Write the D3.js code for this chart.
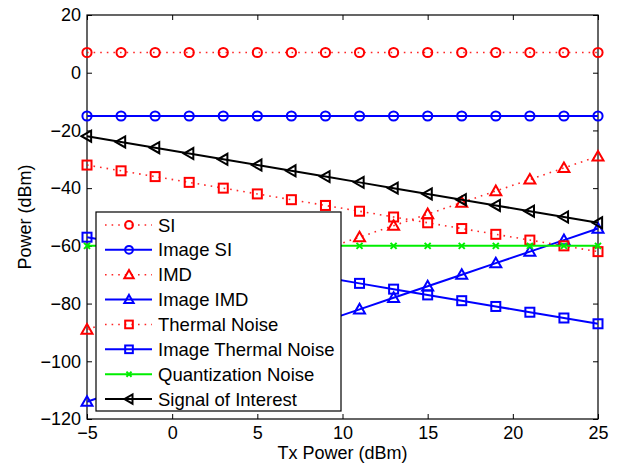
<!DOCTYPE html>
<html><head><meta charset="utf-8">
<script src="https://cdn.jsdelivr.net/npm/d3@7"></script>
<style>
html,body{margin:0;padding:0;background:#fff;}
svg{display:block;font-family:"Liberation Sans",Arial,Helvetica,sans-serif;}
</style></head>
<body><svg id="chart" width="625" height="466"></svg>
<script>
const txPower = [-5,-3,-1,1,3,5,7,9,11,13,15,17,19,21,23,25];
const siValues = [7,7,7,7,7,7,7,7,7,7,7,7,7,7,7,7];
const imageSiValues = [-15,-15,-15,-15,-15,-15,-15,-15,-15,-15,-15,-15,-15,-15,-15,-15];
const imdValues = [-89,-85,-81,-77,-73,-69,-65,-61,-57,-53,-49,-45,-41,-37,-33,-29];
const imageImdValues = [-114,-110,-106,-102,-98,-94,-90,-86,-82,-78,-74,-70,-66,-62,-58,-54];
const thermalValues = [-32,-34,-36,-38,-40,-42,-44,-46,-48,-50,-52,-54,-56,-58,-60,-62];
const imageThermalValues = [-57,-59,-61,-63,-65,-67,-69,-71,-73,-75,-77,-79,-81,-83,-85,-87];
const quantValues = [-60,-60,-60,-60,-60,-60,-60,-60,-60,-60,-60,-60,-60,-60,-60,-60];
const signalValues = [-22,-24,-26,-28,-30,-32,-34,-36,-38,-40,-42,-44,-46,-48,-50,-52];
const xTicks = [-5,0,5,10,15,20,25];
const yTicks = [-120,-100,-80,-60,-40,-20,0,20];

const series = [
  {name:"SI", values:siValues, color:"#ff0000", dotted:true, marker:"circle"},
  {name:"Image SI", values:imageSiValues, color:"#0000ff", dotted:false, marker:"circle"},
  {name:"IMD", values:imdValues, color:"#ff0000", dotted:true, marker:"triangleUp"},
  {name:"Image IMD", values:imageImdValues, color:"#0000ff", dotted:false, marker:"triangleUp"},
  {name:"Thermal Noise", values:thermalValues, color:"#ff0000", dotted:true, marker:"square"},
  {name:"Image Thermal Noise", values:imageThermalValues, color:"#0000ff", dotted:false, marker:"square"},
  {name:"Quantization Noise", values:quantValues, color:"#00ee00", dotted:false, marker:"x"},
  {name:"Signal of Interest", values:signalValues, color:"#000000", dotted:false, marker:"triangleLeft"}
];

const svg = d3.select("#chart");
const L=87, R=598, T=15, B=419;
const x = d3.scaleLinear().domain([-5,25]).range([L,R]);
const y = d3.scaleLinear().domain([-120,20]).range([B,T]);

function drawMarker(g, type, cx, cy, color, s) {
  s = s || 1;
  if (type==="circle") {
    g.append("circle").attr("cx",cx).attr("cy",cy).attr("r",4.6*s)
      .attr("fill","none").attr("stroke",color).attr("stroke-width",2);
  } else if (type==="square") {
    const h=4.5*s;
    g.append("rect").attr("x",cx-h).attr("y",cy-h).attr("width",2*h).attr("height",2*h)
      .attr("fill","none").attr("stroke",color).attr("stroke-width",2);
  } else if (type==="triangleUp") {
    const h=5.5*s;
    g.append("path").attr("d",`M${cx},${cy-h}L${cx+h},${cy+h*0.75}L${cx-h},${cy+h*0.75}Z`)
      .attr("fill","none").attr("stroke",color).attr("stroke-width",2);
  } else if (type==="triangleLeft") {
    const h=5.5*s;
    g.append("path").attr("d",`M${cx-h},${cy}L${cx+h*0.75},${cy-h}L${cx+h*0.75},${cy+h}Z`)
      .attr("fill","none").attr("stroke",color).attr("stroke-width",2);
  } else if (type==="x") {
    const h=3*s;
    g.append("path").attr("d",`M${cx-h},${cy-h}L${cx+h},${cy+h}M${cx-h},${cy+h}L${cx+h},${cy-h}`)
      .attr("fill","none").attr("stroke",color).attr("stroke-width",2);
  }
}

// axes box + ticks
const axG = svg.append("g");
const fmt = d => d<0 ? "\u2212"+Math.abs(d) : d;
const xAxisB = d3.axisBottom(x).tickValues(xTicks).tickSizeInner(-5).tickSizeOuter(0).tickPadding(7).tickFormat(fmt);
const xAxisT = d3.axisTop(x).tickValues(xTicks).tickSizeInner(-5).tickSizeOuter(0).tickFormat("");
const yAxisL = d3.axisLeft(y).tickValues(yTicks).tickSizeInner(-5).tickSizeOuter(0).tickPadding(6).tickFormat(fmt);
const yAxisR = d3.axisRight(y).tickValues(yTicks).tickSizeInner(-5).tickSizeOuter(0).tickFormat("");

function styleAxis(g){
  g.selectAll("line").attr("stroke","#000").attr("stroke-width",1);
  g.selectAll("text").attr("fill","#000").attr("font-size","18px")
    .attr("font-family","Liberation Sans, Arial, sans-serif");
}
axG.append("g").attr("transform",`translate(0,${B})`).call(xAxisB).call(styleAxis);
axG.append("g").attr("transform",`translate(0,${T})`).call(xAxisT).call(styleAxis);
axG.append("g").attr("transform",`translate(${L},0)`).call(yAxisL).call(styleAxis);
axG.append("g").attr("transform",`translate(${R},0)`).call(yAxisR).call(styleAxis);
axG.selectAll(".domain").remove();
axG.append("rect").attr("x",L).attr("y",T).attr("width",R-L).attr("height",B-T)
  .attr("fill","none").attr("stroke","#000").attr("stroke-width",1.2);

// lines
const lineGen = d3.line().x((d,i)=>x(txPower[i])).y(d=>y(d));
const plotG = svg.append("g");
series.forEach(s => {
  plotG.append("path").attr("d", lineGen(s.values)).attr("fill","none")
    .attr("stroke", s.color).attr("stroke-width", s.dotted?1.6:2)
    .attr("stroke-dasharray", s.dotted?"1.6 5":null)
    .attr("opacity", s.dotted?0.85:1);
  const mg = plotG.append("g");
  s.values.forEach((v,i) => drawMarker(mg, s.marker, x(txPower[i]), y(v), s.color, 1));
});

// axis labels
svg.append("text").attr("x",(L+R)/2).attr("y",459).attr("text-anchor","middle")
  .attr("font-size","18px").text("Tx Power (dBm)");
svg.append("text").attr("transform",`translate(31,${(T+B)/2}) rotate(-90)`).attr("text-anchor","middle")
  .attr("font-size","18px").text("Power (dBm)");

// legend
const lg = svg.append("g");
const lx0=96, lx1=341, ly0=212, ly1=411;
lg.append("rect").attr("x",lx0).attr("y",ly0).attr("width",lx1-lx0).attr("height",ly1-ly0)
  .attr("fill","#fff").attr("stroke","#000").attr("stroke-width",1.2);
const rowH = (ly1-ly0)/series.length;
series.forEach((s,i) => {
  const cy = ly0 + rowH*(i+0.5) + 0.5;
  lg.append("line").attr("x1",105).attr("x2",152).attr("y1",cy).attr("y2",cy)
    .attr("stroke",s.color).attr("stroke-width",s.dotted?1.6:2)
    .attr("stroke-dasharray",s.dotted?"1.6 5":null).attr("opacity", s.dotted?0.85:1);
  drawMarker(lg, s.marker, 129, cy, s.color, 0.85);
  lg.append("text").attr("x",158).attr("y",cy).attr("dy","0.36em")
    .attr("font-size","18.5px").text(s.name);
});
</script></body></html>
